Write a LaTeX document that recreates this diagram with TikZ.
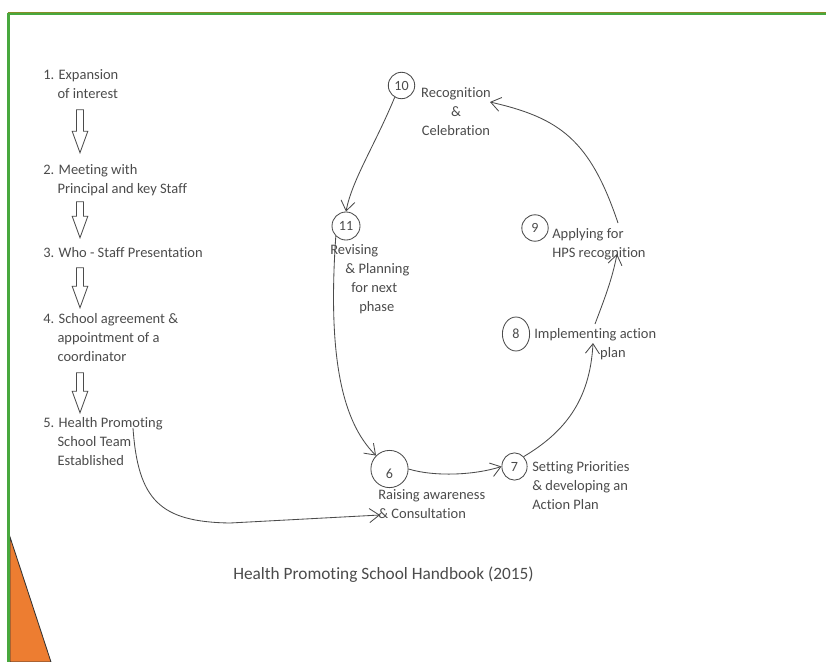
\documentclass[tikz,border=0pt]{standalone}
\usepackage{fontspec}
\setmainfont{Carlito}[Ligatures=NoCommon]
\usetikzlibrary{arrows.meta,shapes.geometric,shapes.arrows,calc}
\definecolor{inkgray}{RGB}{75,75,75}
\definecolor{framegreen}{RGB}{72,168,62}
\definecolor{frameolive}{RGB}{135,140,40}
\definecolor{wedgeorange}{RGB}{237,125,49}

\tikzset{
  steptext/.style={inner sep=0pt, align=left, anchor=north west, text=inkgray,
    font=\fontsize{10.3}{13.5}\selectfont},
  stepnum/.style={circle, draw=inkgray, line width=0.6pt, inner sep=0pt,
    minimum size=0.66cm, text=inkgray, font=\fontsize{10}{12}\selectfont},
  downarrow/.style={single arrow, draw=inkgray, line width=0.6pt, inner sep=2.15pt,
    shape border rotate=270, minimum width=0.375cm,
    single arrow head extend=0.11cm, single arrow tip angle=40},
  cyclearrow/.style={draw=inkgray, line width=0.6pt,
    -{Straight Barb[length=7pt,width=10pt]}}
}

\begin{document}
\begin{tikzpicture}[x=0.025cm, y=-0.025cm]
    \useasboundingbox (0,0) rectangle (826,662);

    % frame and corner wedge
    \filldraw[fill=wedgeorange, draw=black!80, line width=0.6pt] (10,537) -- (51,662) -- (10,662) -- cycle;
    \draw[frameolive, line width=1pt] (7.5,12.5) -- (826,12.5);
    \draw[framegreen, line width=1.6pt] (8.5,662) -- (8.5,14) -- (826,14);

    % steps 1-5
    \node[steptext] (t1) at (43,69) {1. Expansion\\\hphantom{1.~}of interest};
    \node[steptext] (t2) at (43,164) {2. Meeting with\\\hphantom{2.~}Principal and key Staff};
    \node[steptext] (t3) at (43,247) {3. Who - Staff Presentation};
    \node[steptext] (t4) at (43,313) {4. School agreement \&\\\hphantom{4.~}appointment of a\\\hphantom{4.~}coordinator};
    \node[steptext] (t5) at (43,417) {5. Health Promoting\\\hphantom{5.~}School Team\\\hphantom{5.~}Established};

    \node[downarrow, minimum height=1.075cm] (d12) at (80,126.5) {};
    \node[downarrow, minimum height=0.9cm] (d23) at (80,215) {};
    \node[downarrow, minimum height=1cm] (d34) at (80,283) {};
    \node[downarrow, minimum height=1cm] (d45) at (80,388) {};

    % the cycle 6-11
    \node[stepnum, minimum size=0.93cm, text height=13pt, text depth=0pt] (c6) at (389.5,469) {6};
    \node[stepnum, ellipse, minimum width=0.63cm, minimum height=0.68cm] (c7) at (514.5,466.5) {7};
    \node[stepnum, ellipse, minimum width=0.68cm, minimum height=0.85cm] (c8) at (516,334) {8};
    \node[stepnum] (c9) at (535,228) {9};
    \node[stepnum] (c10) at (401.5,85.5) {10};
    \node[stepnum, minimum size=0.7cm] (c11) at (346,226) {11};

    \node[steptext] (l6) at (378,489) {Raising awareness\\\& Consultation};
    \node[steptext] (l7) at (532,461) {Setting Priorities\\\& developing an\\Action Plan};
    \node[steptext] (l8) at (534,328) {Implementing action\\\hspace*{4.55em}plan};
    \node[steptext] (l9) at (552,228) {Applying for\\HPS recognition};
    \node[steptext, anchor=north, align=center] (l10) at (456,87) {Recognition\\\&\\Celebration};
    \node[steptext] (l11) at (330,244) {Revising\\\hspace*{1.05em}\& Planning\\\hspace*{1.45em}for next\\\hspace*{2em}phase};

    \coordinate (teamline) at (133,428);
    \coordinate (consult) at (380,515);
    \coordinate (planin) at (593,343);
    \coordinate (implout) at (595,324);
    \coordinate (recogin) at (617,254);
    \coordinate (applyout) at (618,223);
    \coordinate (celebin) at (490,102);

    \draw[cyclearrow] (teamline) .. controls (138,500) and (160,522) .. (230,523) -- (consult);
    \draw[cyclearrow] (c6.east) .. controls (435,477) and (475,475) .. (c7.west);
    \draw[cyclearrow] (c7.north east) .. controls (565,432) and (590,400) .. (planin);
    \draw[cyclearrow] (implout) .. controls (604,300) and (612,280) .. (recogin);
    \draw[cyclearrow] (applyout) .. controls (590,140) and (560,118) .. (celebin);
    \draw[cyclearrow] (c10.-120) .. controls (375,145) and (352,180) .. (c11.north);
    \draw[cyclearrow] (c11.south west) .. controls (328,350) and (340,420) .. (c6.north west);

    \node[text=inkgray, font=\fontsize{12.3}{15}\selectfont] (caption) at (383.5,575) {Health Promoting School Handbook (2015)};
\end{tikzpicture}
\end{document}
